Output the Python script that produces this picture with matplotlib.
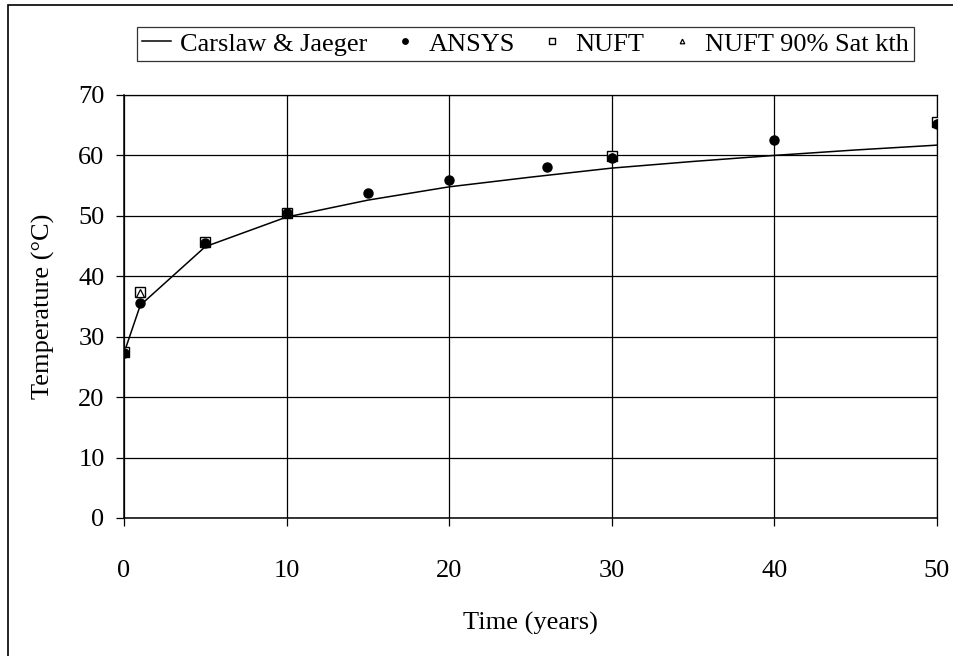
import matplotlib.pyplot as plt
from matplotlib.patches import Rectangle

plt.rcParams['font.family'] = ['Liberation Serif', 'DejaVu Serif']

# analytical solution (Carslaw & Jaeger)
cj_time = [0, 1, 5, 10, 15, 20, 25, 30, 35, 40, 45, 50]
cj_temp = [27.3, 35.2, 44.9, 49.8, 52.6, 54.8, 56.4, 57.9, 59.0, 60.0, 60.9, 61.7]

# ANSYS results
ansys_time = [0, 1, 5, 10, 15, 20, 26, 30, 40, 50]
ansys_temp = [27.3, 35.6, 45.5, 50.5, 53.7, 55.9, 58.1, 59.6, 62.5, 65.2]

# NUFT results
nuft_time = [0, 1, 5, 10, 30, 50]
nuft_temp = [27.4, 37.4, 45.6, 50.5, 59.9, 65.6]

# NUFT with 90% saturation thermal conductivity
nuft90_time = [0, 1, 5, 10, 30, 50]
nuft90_temp = [27.4, 37.3, 45.5, 50.4, 59.7, 65.4]

fig = plt.figure(figsize=(9.54, 6.56), dpi=100)
ax = fig.add_axes([0.130, 0.2104, 0.852, 0.6448])

ax.plot(cj_time, cj_temp, color='black', lw=1.1, label='Carslaw & Jaeger', zorder=3)
ax.plot(nuft_time, nuft_temp, ls='none', marker='s', ms=7.5, mfc='white', mec='black',
        mew=1.0, label='NUFT', zorder=4)
ax.plot(nuft90_time, nuft90_temp, ls='none', marker='^', ms=5.5, mfc='white', mec='black',
        mew=0.9, label='NUFT 90% Sat kth', zorder=5)
ax.plot(ansys_time, ansys_temp, ls='none', marker='o', ms=6.5, color='black',
        label='ANSYS', zorder=6)

ax.set_xlim(0, 50)
ax.set_ylim(0, 70)
ax.set_xticks(range(0, 51, 10))
ax.set_yticks(range(0, 71, 10))
ax.grid(True, color='black', lw=0.9)
ax.set_axisbelow(True)
for side in ['top', 'right']:
    ax.spines[side].set_linewidth(0.9)
for side in ['left', 'bottom']:
    ax.spines[side].set_linewidth(1.1)
ax.tick_params(direction='out', length=6, width=0.9, labelsize=19, pad=8)
ax.tick_params(axis='x', pad=24)

ax.set_xlabel('Time (years)', fontsize=19, labelpad=22)
ax.set_ylabel('Temperature (\u00b0C)', fontsize=19, labelpad=17)

handles, labels = ax.get_legend_handles_labels()
order = [0, 3, 1, 2]
leg = fig.legend([handles[i] for i in order], [labels[i] for i in order],
                 loc='center', bbox_to_anchor=(0.551, 0.933), ncol=4,
                 fontsize=19, frameon=True, fancybox=False, edgecolor='black',
                 handlelength=1.1, handletextpad=0.35, columnspacing=0.85,
                 borderpad=0.2, borderaxespad=0.0, markerscale=0.6)
leg.get_frame().set_linewidth(0.9)

# border around the chart; only its left and top edges fall inside the image
fig.patches.append(Rectangle((0.008, -0.1), 1.1, 1.092, transform=fig.transFigure,
                             fill=False, edgecolor='black', lw=1.2))

fig.savefig('out.png', dpi=100)
